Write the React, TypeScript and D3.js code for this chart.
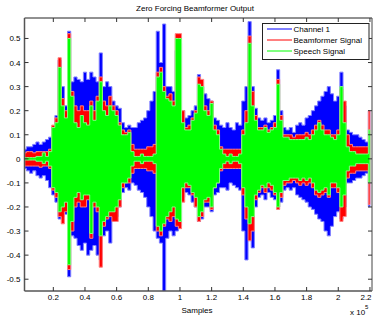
import React from 'react';
import * as d3 from 'd3';

// sample positions (x 10^5) and envelope values
const samples = [
  0.02, 0.04, 0.06, 0.08, 0.10, 0.12, 0.14, 0.16, 0.18,
  0.20, 0.22, 0.24, 0.26, 0.28, 0.30, 0.32, 0.34, 0.36, 0.38,
  0.40, 0.42, 0.44, 0.46, 0.48, 0.50, 0.52, 0.54, 0.56, 0.58,
  0.60, 0.62, 0.64, 0.66, 0.68, 0.70, 0.72, 0.74, 0.76, 0.78,
  0.80, 0.82, 0.84, 0.86, 0.88, 0.90, 0.92, 0.94, 0.96, 0.98,
  1.00, 1.02, 1.04, 1.06, 1.08, 1.10, 1.12, 1.14, 1.16, 1.18,
  1.20, 1.22, 1.24, 1.26, 1.28, 1.30, 1.32, 1.34, 1.36, 1.38,
  1.40, 1.42, 1.44, 1.46, 1.48, 1.50, 1.52, 1.54, 1.56, 1.58,
  1.60, 1.62, 1.64, 1.66, 1.68, 1.70, 1.72, 1.74, 1.76, 1.78,
  1.80, 1.82, 1.84, 1.86, 1.88, 1.90, 1.92, 1.94, 1.96, 1.98,
  2.00, 2.02, 2.04, 2.06, 2.08, 2.10, 2.12, 2.14, 2.16, 2.18, 2.20,
];

const channelHi = [
  0.04, 0.05, 0.05, 0.06, 0.07, 0.06, 0.07, 0.08, 0.09,
  0.13, 0.18, 0.41, 0.30, 0.22, 0.53, 0.32, 0.34, 0.33, 0.32,
  0.36, 0.33, 0.36, 0.34, 0.32, 0.44, 0.30, 0.32, 0.30, 0.24,
  0.22, 0.21, 0.15, 0.13, 0.14, 0.13, 0.13, 0.15, 0.16, 0.17,
  0.20, 0.24, 0.28, 0.53, 0.40, 0.56, 0.30, 0.30, 0.28, 0.45,
  0.48, 0.20, 0.17, 0.18, 0.20, 0.22, 0.35, 0.30, 0.27, 0.25,
  0.24, 0.17, 0.16, 0.14, 0.13, 0.15, 0.13, 0.12, 0.15, 0.14,
  0.24, 0.30, 0.57, 0.30, 0.21, 0.17, 0.16, 0.17, 0.15, 0.16,
  0.18, 0.37, 0.20, 0.13, 0.12, 0.13, 0.11, 0.14, 0.15, 0.14,
  0.17, 0.18, 0.20, 0.22, 0.24, 0.26, 0.28, 0.30, 0.27, 0.24,
  0.26, 0.36, 0.22, 0.12, 0.11, 0.10, 0.10, 0.09, 0.08, 0.07, 0.20,
];
const channelLo = [
  -0.04, -0.05, -0.06, -0.05, -0.07, -0.08, -0.07, -0.09, -0.12,
  -0.15, -0.18, -0.25, -0.24, -0.23, -0.49, -0.32, -0.33, -0.36, -0.38,
  -0.35, -0.40, -0.38, -0.36, -0.40, -0.42, -0.32, -0.30, -0.35, -0.26,
  -0.24, -0.20, -0.14, -0.12, -0.13, -0.10, -0.11, -0.13, -0.14, -0.16,
  -0.20, -0.24, -0.30, -0.33, -0.35, -0.55, -0.33, -0.30, -0.32, -0.30,
  -0.28, -0.16, -0.14, -0.15, -0.18, -0.20, -0.26, -0.25, -0.20, -0.20,
  -0.22, -0.15, -0.14, -0.12, -0.12, -0.13, -0.10, -0.11, -0.12, -0.13,
  -0.30, -0.42, -0.34, -0.37, -0.20, -0.16, -0.15, -0.17, -0.14, -0.16,
  -0.17, -0.20, -0.18, -0.13, -0.12, -0.13, -0.12, -0.15, -0.16, -0.17,
  -0.18, -0.20, -0.21, -0.23, -0.25, -0.26, -0.30, -0.32, -0.28, -0.24,
  -0.22, -0.25, -0.20, -0.10, -0.10, -0.09, -0.08, -0.08, -0.07, -0.06, -0.20,
];

const beamHi = [
  0.025, 0.03, 0.03, 0.025, 0.03, 0.03, 0.03, 0.03, 0.04,
  0.14, 0.17, 0.42, 0.25, 0.20, 0.52, 0.28, 0.22, 0.20, 0.22,
  0.20, 0.20, 0.24, 0.20, 0.26, 0.34, 0.24, 0.22, 0.26, 0.22,
  0.20, 0.15, 0.12, 0.11, 0.12, 0.06, 0.04, 0.04, 0.04, 0.04,
  0.05, 0.05, 0.06, 0.36, 0.38, 0.30, 0.26, 0.27, 0.24, 0.52,
  0.52, 0.20, 0.13, 0.14, 0.17, 0.20, 0.34, 0.33, 0.22, 0.20,
  0.24, 0.14, 0.12, 0.05, 0.04, 0.04, 0.04, 0.04, 0.04, 0.04,
  0.12, 0.20, 0.51, 0.28, 0.18, 0.13, 0.13, 0.14, 0.12, 0.13,
  0.15, 0.33, 0.18, 0.10, 0.10, 0.10, 0.09, 0.10, 0.10, 0.10,
  0.11, 0.10, 0.12, 0.14, 0.16, 0.14, 0.12, 0.12, 0.10, 0.10,
  0.12, 0.29, 0.24, 0.10, 0.06, 0.05, 0.05, 0.05, 0.05, 0.05, 0.20,
];
const beamLo = [
  -0.03, -0.03, -0.03, -0.03, -0.03, -0.035, -0.03, -0.03, -0.04,
  -0.13, -0.16, -0.24, -0.27, -0.22, -0.46, -0.30, -0.20, -0.18, -0.20,
  -0.20, -0.17, -0.33, -0.20, -0.22, -0.45, -0.28, -0.25, -0.24, -0.26,
  -0.26, -0.20, -0.12, -0.10, -0.10, -0.06, -0.04, -0.04, -0.04, -0.04,
  -0.05, -0.05, -0.06, -0.30, -0.32, -0.28, -0.25, -0.26, -0.24, -0.28,
  -0.29, -0.18, -0.12, -0.12, -0.15, -0.20, -0.26, -0.24, -0.18, -0.18,
  -0.21, -0.12, -0.10, -0.05, -0.04, -0.04, -0.04, -0.04, -0.04, -0.04,
  -0.15, -0.25, -0.34, -0.30, -0.17, -0.14, -0.12, -0.14, -0.12, -0.13,
  -0.15, -0.21, -0.16, -0.11, -0.10, -0.10, -0.09, -0.10, -0.11, -0.10,
  -0.11, -0.10, -0.12, -0.15, -0.16, -0.15, -0.14, -0.16, -0.12, -0.12,
  -0.14, -0.26, -0.24, -0.08, -0.06, -0.06, -0.05, -0.05, -0.05, -0.05, -0.19,
];

const speechHi = [
  0.005, 0.005, 0.005, 0.005, 0.01, 0.01, 0.025, 0.01, 0.03,
  0.13, 0.15, 0.38, 0.22, 0.17, 0.50, 0.26, 0.15, 0.13, 0.18,
  0.15, 0.14, 0.22, 0.16, 0.24, 0.32, 0.20, 0.18, 0.22, 0.20,
  0.18, 0.14, 0.10, 0.10, 0.11, 0.03, 0.01, 0.01, 0.02, 0.01,
  0.01, 0.01, 0.02, 0.34, 0.36, 0.28, 0.25, 0.24, 0.22, 0.50,
  0.50, 0.15, 0.12, 0.12, 0.16, 0.19, 0.31, 0.30, 0.20, 0.18,
  0.23, 0.12, 0.10, 0.04, 0.02, 0.01, 0.02, 0.01, 0.01, 0.02,
  0.10, 0.15, 0.48, 0.22, 0.16, 0.12, 0.12, 0.13, 0.11, 0.12,
  0.13, 0.31, 0.16, 0.09, 0.09, 0.08, 0.08, 0.08, 0.08, 0.08,
  0.09, 0.08, 0.10, 0.12, 0.15, 0.12, 0.10, 0.10, 0.09, 0.08,
  0.10, 0.30, 0.15, 0.05, 0.03, 0.03, 0.02, 0.02, 0.02, 0.02, 0.12,
];
const speechLo = [
  -0.005, -0.005, -0.005, -0.005, -0.01, -0.01, -0.02, -0.01, -0.03,
  -0.12, -0.14, -0.22, -0.20, -0.18, -0.44, -0.26, -0.16, -0.14, -0.17,
  -0.15, -0.15, -0.31, -0.18, -0.20, -0.32, -0.26, -0.24, -0.22, -0.22,
  -0.20, -0.17, -0.10, -0.10, -0.08, -0.03, -0.01, -0.01, -0.02, -0.01,
  -0.01, -0.01, -0.02, -0.28, -0.30, -0.27, -0.24, -0.22, -0.20, -0.25,
  -0.26, -0.12, -0.10, -0.11, -0.14, -0.16, -0.24, -0.22, -0.17, -0.16,
  -0.20, -0.12, -0.10, -0.04, -0.02, -0.01, -0.02, -0.01, -0.01, -0.02,
  -0.12, -0.20, -0.27, -0.24, -0.15, -0.13, -0.11, -0.12, -0.10, -0.11,
  -0.14, -0.20, -0.14, -0.09, -0.09, -0.08, -0.08, -0.08, -0.09, -0.08,
  -0.09, -0.08, -0.10, -0.13, -0.14, -0.13, -0.12, -0.15, -0.10, -0.10,
  -0.12, -0.20, -0.15, -0.05, -0.03, -0.03, -0.02, -0.02, -0.02, -0.02, -0.10,
];

const xTicks = [0.2, 0.4, 0.6, 0.8, 1, 1.2, 1.4, 1.6, 1.8, 2, 2.2];
const yTicks = [-0.5, -0.4, -0.3, -0.2, -0.1, 0, 0.1, 0.2, 0.3, 0.4, 0.5];
const seriesNames = ['Channel 1', 'Beamformer Signal', 'Speech Signal'];
const seriesColors = ['#0000ff', '#ff0000', '#00ff00'];
const fringeColors = ['#7f7fff', '#ff7f7f', '#7fff7f'];

const W = 373;
const H = 320;
const left = 24.5, right = 372, top = 18, bottom = 291;
const font = "'Liberation Sans', Arial, Helvetica, sans-serif";

const App = () => {
  const x = d3.scaleLinear().domain([0.018, 2.213]).range([left, right]);
  const y = d3.scaleLinear().domain([-0.549, 0.585]).range([bottom, top]);

  const envelopes = [
    [channelHi, channelLo],
    [beamHi, beamLo],
    [speechHi, speechLo],
  ];

  const area = (hi: number[], lo: number[]) =>
    d3.area<number>()
      .x(i => x(samples[i]))
      .y0(i => y(lo[i]))
      .y1(i => y(hi[i]))
      .curve(d3.curveStep)(samples.map((_, i) => i)) || '';

  return (
    <svg width={W} height={H} style={{position: 'absolute', left: 0, top: 0, background: '#fff'}}>
      <defs>
        <clipPath id="plot">
          <rect x={left} y={top} width={right - left} height={bottom - top} />
        </clipPath>
      </defs>
      <g clipPath="url(#plot)">
        {envelopes.map(([hi, lo], k) => (
          <path key={k} d={area(hi, lo)} fill={seriesColors[k]}
            stroke={fringeColors[k]} strokeWidth={1} />
        ))}
      </g>

      {/* box */}
      <line x1={left} x2={right} y1={top} y2={top} stroke="#222" />
      <line x1={right} x2={right} y1={top} y2={bottom} stroke="#444" />
      <line x1={left} x2={left} y1={top} y2={bottom} stroke="#555" strokeWidth={1.5} />
      <line x1={left} x2={right} y1={bottom} y2={bottom} stroke="#555" strokeWidth={1.5} />

      {xTicks.map(t => (
        <g key={t}>
          <line x1={x(t)} x2={x(t)} y1={bottom} y2={bottom - 4} stroke="#333" />
          <line x1={x(t)} x2={x(t)} y1={top} y2={top + 4} stroke="#333" />
          <text x={Math.min(x(t), 366)} y={300} textAnchor="middle" fontSize={8} fontFamily={font}>{String(t)}</text>
        </g>
      ))}
      {yTicks.map(t => (
        <g key={t}>
          <line x1={left} x2={left + 4} y1={y(t)} y2={y(t)} stroke="#333" />
          <line x1={right} x2={right - 4} y1={y(t)} y2={y(t)} stroke="#333" />
          <text x={20.5} y={y(t) + 3} textAnchor="end" fontSize={8} fontFamily={font}>{String(t)}</text>
        </g>
      ))}

      <text x={195} y={10.5} textAnchor="middle" fontSize={8} fontFamily={font}>Zero Forcing Beamformer Output</text>
      <text x={197} y={313} textAnchor="middle" fontSize={8} fontFamily={font}>Samples</text>
      <text x={350} y={315} fontSize={8} fontFamily={font}>x 10</text>
      <text x={365} y={309} fontSize={6} fontFamily={font}>5</text>

      {/* legend */}
      <rect x={262.5} y={23.5} width={106.5} height={36} fill="#fff" stroke="#222" />
      {seriesNames.map((n, i) => (
        <g key={n}>
          <line x1={267} x2={292} y1={29 + i * 11} y2={29 + i * 11} stroke={seriesColors[i]} />
          <text x={293.5} y={32 + i * 11} fontSize={8} fontFamily={font}>{n}</text>
        </g>
      ))}
    </svg>
  );
};

export default App;
